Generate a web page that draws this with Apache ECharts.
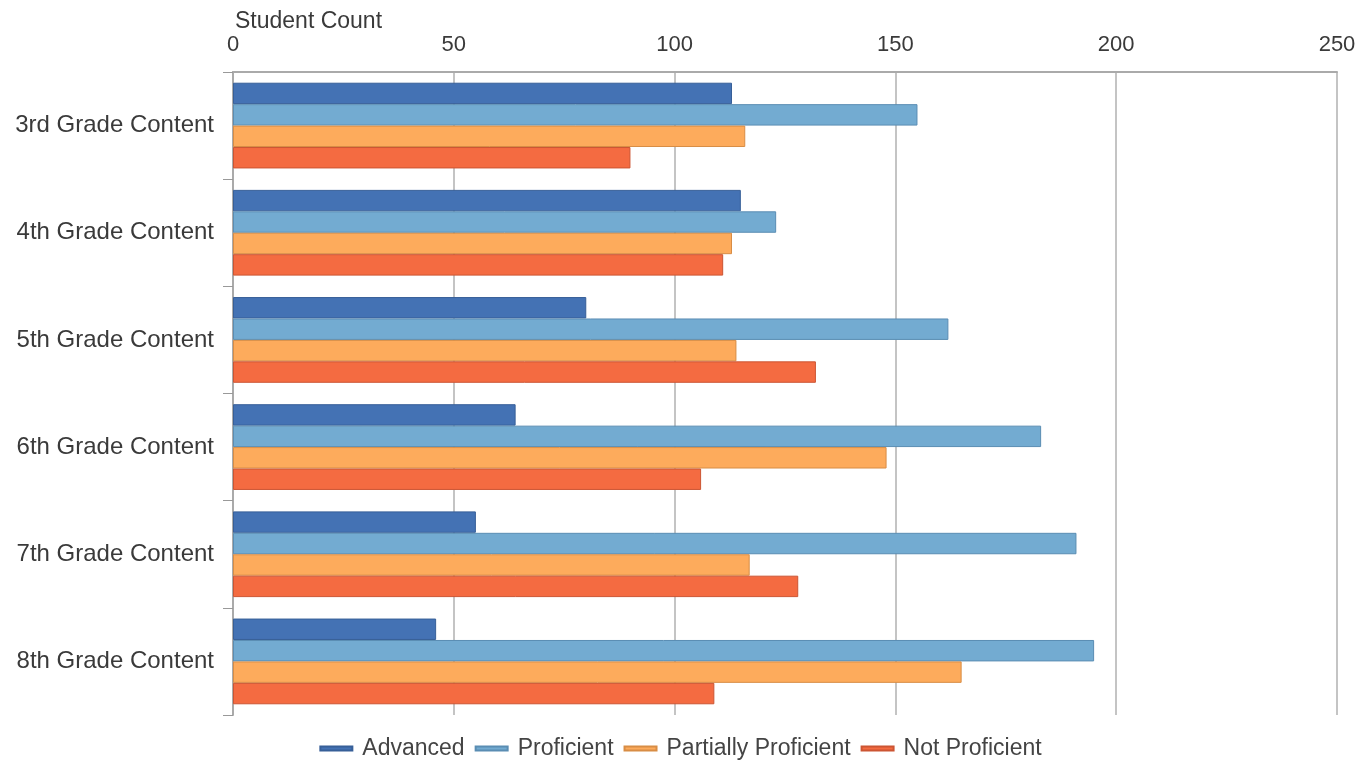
<!DOCTYPE html>
<html>
<head>
<meta charset="utf-8">
<script src="https://cdn.jsdelivr.net/npm/echarts@6/dist/echarts.min.js"></script>
<style>html,body{margin:0;padding:0;background:#fff}#c{width:1361px;height:767px}</style>
</head>
<body>
<div id="c"></div>
<script>
const categories = ['3rd Grade Content','4th Grade Content','5th Grade Content','6th Grade Content','7th Grade Content','8th Grade Content'];
const seriesNames = ['Advanced','Proficient','Partially Proficient','Not Proficient'];
const advanced = [113, 115, 80, 64, 55, 46];
const proficient = [155, 123, 162, 183, 191, 195];
const partiallyProficient = [116, 113, 114, 148, 117, 165];
const notProficient = [90, 111, 132, 106, 128, 109];
const xTicks = [0, 50, 100, 150, 200, 250];

const values = [advanced, proficient, partiallyProficient, notProficient];
const colors = ['#4472b4', '#73abd1', '#fdab5c', '#f46b41'];
const borders = ['#375f98', '#5a8db3', '#d88d45', '#cc5533'];
const font = 'Liberation Sans, Arial, sans-serif';

const chart = echarts.init(document.getElementById('c'));
chart.setOption({
  animation: false,
  title: {
    text: 'Student Count', left: 230, top: 5,
    textStyle: { fontFamily: font, fontSize: 23, fontWeight: 'normal', color: '#3a3a3a' }
  },
  legend: {
    bottom: 2, left: 'center', itemGap: 10, itemWidth: 32, itemHeight: 4, icon: 'rect',
    data: seriesNames,
    textStyle: { fontFamily: font, fontSize: 23, color: '#444', padding: [0, 0, 0, 5] }
  },
  grid: { left: 233, right: 24, top: 72, bottom: 52, containLabel: false },
  xAxis: {
    type: 'value', position: 'top', min: xTicks[0], max: xTicks[xTicks.length - 1], interval: 50,
    axisLine: { show: true, lineStyle: { color: '#aaa', width: 2 } },
    axisTick: { show: false },
    axisLabel: { margin: 16, fontFamily: font, fontSize: 22, color: '#3a3a3a' },
    splitLine: { show: true, lineStyle: { color: '#c4c4c4', width: 2 } }
  },
  yAxis: {
    type: 'category', data: categories, inverse: true,
    axisLine: { show: true, lineStyle: { color: '#aaa', width: 2 } },
    axisTick: { show: true, length: 10, lineStyle: { color: '#999', width: 1 } },
    axisLabel: { margin: 19, fontFamily: font, fontSize: 24, color: '#3a3a3a' }
  },
  series: seriesNames.map((n, i) => ({
    name: n, type: 'bar', data: values[i],
    barGap: '0%', barCategoryGap: '20%',
    itemStyle: { color: colors[i], borderColor: borders[i], borderWidth: 1 }
  }))
});
</script>
</body>
</html>
